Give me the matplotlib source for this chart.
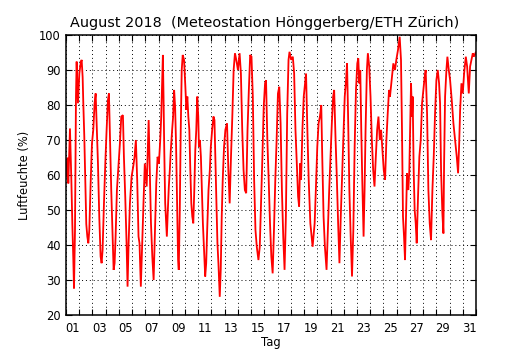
import numpy as np
import pandas as pd
import matplotlib
matplotlib.use("Agg")
import matplotlib.pyplot as plt
import matplotlib.dates as mdates
from matplotlib.ticker import FixedLocator, FixedFormatter, NullFormatter, MultipleLocator

# Relative humidity, Hönggerberg, August 2018
# hours since 2018-08-01 00:00 and humidity in percent
hours = [
    0, 2.4, 4.2, 7.2, 9.7, 11.5, 13.3, 14.5, 16.3, 18.1, 19.3, 21.7,
    24.2, 26.6, 28.4, 30.2, 31.4, 33.2, 35, 36.8, 38.7, 40.5, 42.3, 44.7, 47.1,
    49.5, 51.9, 53.8, 55.6, 58, 60.4, 62.8, 64.6, 66.4, 68.9, 71.3,
    73.7, 76.1, 77.9, 79.7, 82.1, 84.6, 86.4, 88.2, 90, 92.4, 95.4,
    97.8, 100.3, 103.3, 105.1, 107.5, 109.9, 111.7, 113.6, 116, 119,
    122, 124.4, 126.8, 129.2, 131.6, 133.4, 135.8, 138.2, 140.6, 143,
    146.4, 148.2, 150, 151.8, 154.2, 156.6, 159, 161.4, 163.8, 166.2,
    168.6, 171, 172.8, 174.6, 175.8, 177, 178.2, 180, 181.8, 183, 184.8, 186.6, 188.4, 190.2,
    192.6, 194.4, 196.2, 198, 199.8, 201.6, 203.4, 204.6, 206.4, 208.2, 210, 211.8, 214.2,
    216.6, 218.4, 220.2, 222, 223.8, 225.6, 227.4, 229.2, 231, 232.8, 234.6, 236.4, 238.2,
    240, 241.2, 243, 244.8, 246.6, 248.4, 250.2, 252.6, 254.4, 256.2, 258.6, 261, 262.8,
    265.2, 267.6, 269.4, 271.2, 273, 274.8, 276.6, 279, 280.8, 282.6, 284.4, 286.8, 289.2,
    292.2, 294.6, 297, 299.4, 301.8, 304.2, 306.6, 309, 312,
    315, 317.4, 319.8, 322.2, 324.6, 327, 329.4, 331.8, 334.2,
    336.6, 339, 341.4, 343.8, 346.2, 349.2, 351.6, 354, 356.4, 358.8, 361.2, 363,
    365.4, 367.8, 370.2, 372.6, 375, 377.4, 379.8, 382.2, 384.6, 387, 389.4,
    391.8, 394.2, 396.6, 399, 401.4, 403.8, 405.6, 408.6, 411.6, 414, 416.4,
    418.8, 421.2, 423, 424.8, 426.6, 429, 431.4, 433.8, 435.6, 438, 440.4,
    443.4, 445.8, 447.5, 451.2, 453.6, 456, 458.4, 460.8, 463.2, 465, 467.4,
    469.8, 472.8, 475.2, 477.6, 480, 482.4, 484.8, 486.6, 489, 491.4, 493.8,
    496.2, 498.6, 501, 503.4, 505.8, 508.2, 510, 511.8, 514.2, 516.6, 519,
    521.4, 523.8, 526.2, 528.6, 530.4, 532.2, 534, 535.8, 537.6, 540, 541.8,
    543.6, 546, 547.8, 550.2, 552.6, 555, 557.4, 559.8, 562.2, 564.6, 567,
    569.4, 571.8, 574.2, 576.6, 579, 581.4, 583.8, 586.2, 587.9, 590.9, 594,
    597, 599.4, 602.4, 605.5, 607.9, 609.7, 611.5, 613.4, 615.2, 617, 618.8,
    621.2, 623, 624.9, 626.1, 627.9, 629.1, 630.9, 632.7, 634.6, 636.4, 638.8,
    641.2, 643.7, 646.1, 648.5, 650.9, 652.7, 655.2, 657.6, 660, 662.4, 664.9,
    667.3, 669.7, 672.1, 674.6, 677, 678.8, 680.6, 683, 684.9, 686.1, 687.9,
    690.3, 692.1, 694.6, 697, 700, 703, 706.1, 709.1, 711.5, 713.3, 715.2,
    717.6, 720, 722.4, 725.5, 727.9, 730.9, 733.3, 735.8, 738.2, 740, 743.5,
]
humidity = [
    59.5, 65, 57.6, 73.3, 58.6, 46, 35.7, 27.6, 44, 82.4, 92.4, 80.5,
    89, 92, 92.9, 88, 80.5, 71, 58.6, 46, 42.4, 40.5, 44.3, 57.6, 69,
    72.9, 80.5, 83.3, 74.8, 63.3, 48, 36.7, 34.8, 38.6, 51.9, 63.3,
    72.9, 81.4, 83.3, 71, 55.7, 42.4, 32.9, 34.8, 42.4, 55.7, 63.3,
    69, 76.7, 77.1, 65.2, 53.8, 40.5, 28.1, 40.5, 51.9, 59.5,
    62.4, 65.2, 70, 58.6, 42.4, 40.5, 28.1, 40.5, 51.9, 63.3,
    56.7, 66.2, 75.7, 63.3, 46.2, 36.7, 30, 44.3, 57.6, 65.2,
    63.3, 70, 76.7, 87.1, 94.3, 82.4, 68.1, 51.9, 46.2, 42.4, 50, 56.7, 61.4, 67.1,
    72.9, 76.7, 84.3, 79.5, 68.1, 51.9, 35.7, 32.9, 49, 72.9, 90, 94.3, 92.9,
    85.2, 78.6, 82.4, 76.7, 72.9, 61.4, 51.9, 48.1, 46.2, 55.7, 67.1, 72.9, 82.4,
    76.7, 68.1, 70, 65.2, 55.7, 46.2, 39.5, 31, 34.8, 44.3, 55.7, 61.4, 68.1,
    72.9, 76.7, 75.7, 63.3, 51.9, 40.5, 34.8, 25.2, 32.9, 48.1, 58.6, 68.1, 72.9,
    74.8, 61.4, 51.9, 65.2, 76.7, 90, 94.8, 92.9, 90,
    94.8, 89, 72.9, 61.4, 55.7, 54.8, 72.9, 84.3, 94.3,
    93.8, 82.4, 58.6, 44.3, 39.5, 35.7, 39.5, 51.9, 65.2, 79.5, 86.2, 87.1,
    70, 58.6, 46.2, 36.7, 31.9, 44.3, 58.6, 70, 83.3, 85.2, 74.8,
    55.7, 42.4, 32.9, 48.1, 77.6, 92.9, 95.2, 92.9, 93.8, 89, 72.9,
    63.3, 53.8, 51, 63.3, 58.6, 72.9, 82.4, 86.2, 89, 72.9, 58.6,
    46.2, 42.4, 39.5, 46.2, 56.7, 68.1, 74.8, 76.7, 80, 65.2, 48.1,
    39.5, 32.9, 44.3, 55.7, 65.2, 74.8, 82.4, 84.3, 71, 59.5, 46.2,
    34.8, 48.1, 59.5, 70, 82.4, 87.1, 91.9, 77.6, 55.7, 42.4, 31,
    44.3, 68.1, 84.3, 91.9, 93.3, 86.2, 90, 72.9, 58.6, 42.4, 55.7,
    72.9, 90, 94.8, 91, 82.4, 70, 61.4, 56.7, 65.2, 72.9, 76.7,
    70, 72.9, 67.1, 61.4, 58.6, 70, 77.6, 84.3, 82.4, 87.1, 91.9,
    90, 92.9, 95.7, 99.5, 92.9, 72.9, 48.1, 42.4, 35.7, 48.1, 60.5,
    55.7, 61.4, 77.6, 86.2, 76.7, 82.4, 61.4, 50, 46.2, 40.5, 53.8,
    65.2, 70, 80.5, 84.3, 88.1, 90, 77.6, 55.7, 46.2, 41.4, 55.7,
    65.2, 77.6, 87.1, 90, 86.2, 80.5, 61.4, 49, 43.3, 63.3, 82.4,
    90, 93.8, 90, 87.1, 81.4, 74.8, 70, 65.2, 60.5, 68.1, 78.6,
    86.2, 83.3, 89, 93.8, 91, 83.3, 91, 92.9, 94.8, 93.8, 95,
]

# day labels shown at noon of every second day
label_days = [1, 3, 5, 7, 9, 11, 13, 15, 17, 19, 21, 23, 25, 27, 29, 31]
label_texts = ["01", "03", "05", "07", "09", "11", "13", "15",
               "17", "19", "21", "23", "25", "27", "29", "31"]
y_ticks = [20, 30, 40, 50, 60, 70, 80, 90, 100]

start = pd.Timestamp("2018-08-01")
end = pd.Timestamp("2018-09-01")
times = start + pd.to_timedelta(np.asarray(hours), unit="h")

fig = plt.figure(figsize=(5.30, 3.50), dpi=100, facecolor="white")
ax = fig.add_axes([66 / 530, 35 / 350, 410 / 530, 280 / 350])

ax.plot(times, humidity, color="red", linewidth=1.3, solid_joinstyle="miter")

ax.set_xlim(start, end)
ax.set_ylim(20, 100)

# midnight ticks with grid, labels centred on each day
ax.xaxis.set_major_locator(mdates.DayLocator())
ax.xaxis.set_major_formatter(NullFormatter())
label_pos = [mdates.date2num(start + pd.Timedelta(days=d - 1, hours=12)) for d in label_days]
ax.xaxis.set_minor_locator(FixedLocator(label_pos))
ax.xaxis.set_minor_formatter(FixedFormatter(label_texts))
ax.yaxis.set_major_locator(FixedLocator(y_ticks))

ax.tick_params(which="major", direction="in", top=True, right=True,
               length=4, width=0.8, labelsize=8.3, pad=4)
ax.tick_params(axis="x", which="minor", length=0, labelsize=8.3, pad=5)

ax.grid(True, which="major", color="black", linestyle=(0, (1, 3)), linewidth=0.7)

for s in ax.spines.values():
    s.set_linewidth(1.1)

ax.set_xlabel("Tag", fontsize=8.3)
ax.set_ylabel("Luftfeuchte (%)", fontsize=8.3)
ax.xaxis.set_label_coords(0.5, -0.075)
ax.yaxis.set_label_coords(-0.085, 0.5)

fig.text(0.5, 1 - 23 / 350, "August 2018  (Meteostation Hönggerberg/ETH Zürich)",
         ha="center", va="center", fontsize=10.4)

fig.savefig("out.png", dpi=100, facecolor="white")
